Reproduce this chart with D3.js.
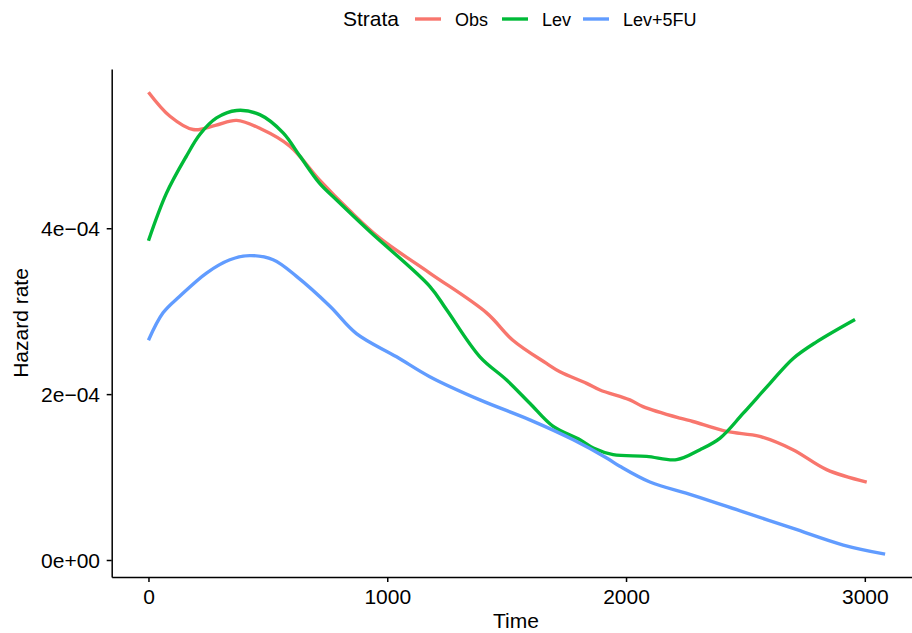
<!DOCTYPE html>
<html lang="en">
<head>
<meta charset="utf-8">
<script src="https://cdnjs.cloudflare.com/ajax/libs/d3/7.8.5/d3.min.js"></script>
<style>
  body { margin: 0; background: #fff; }
  svg { display: block; font-family: "Liberation Sans", Arial, sans-serif; }
  .axis path, .axis line { stroke: #000; stroke-width: 1.5px; }
  .axis text { fill: #000; font-size: 21px; }
  .curve { fill: none; stroke-width: 3.4px; stroke-linejoin: round; stroke-linecap: butt; }
</style>
</head>
<body>
<svg width="912" height="633"></svg>
<script>
// --- data ---
var strata = ["Obs", "Lev", "Lev+5FU"];
var colours = ["#F8766D", "#00BA38", "#619CFF"];

var obsTime = [0, 90, 187, 280, 369, 470, 592, 717, 840, 969, 1178, 1416, 1526, 1667, 1723, 1835, 1891, 2016, 2071, 2226, 2280, 2421, 2560, 2699, 2840, 3008];
var obsHaz  = [5.64, 5.35, 5.19, 5.24, 5.30, 5.20, 4.99, 4.58, 4.22, 3.88, 3.46, 2.98, 2.65, 2.37, 2.27, 2.13, 2.05, 1.93, 1.85, 1.71, 1.67, 1.55, 1.49, 1.33, 1.09, 0.94];

var levTime = [0, 75, 159, 215, 285, 369, 466, 564, 634, 717, 788, 927, 1178, 1248, 1388, 1500, 1597, 1695, 1807, 1863, 1946, 2086, 2212, 2310, 2394, 2491, 2603, 2700, 2798, 2959];
var levHaz  = [3.85, 4.42, 4.87, 5.13, 5.33, 5.42, 5.37, 5.15, 4.87, 4.54, 4.34, 3.96, 3.30, 3.02, 2.45, 2.17, 1.89, 1.61, 1.45, 1.35, 1.27, 1.25, 1.21, 1.33, 1.47, 1.77, 2.13, 2.43, 2.63, 2.90];

var fuTime = [0, 61, 131, 243, 341, 424, 522, 620, 760, 871, 1039, 1178, 1388, 1597, 1779, 1919, 1974, 2100, 2281, 2491, 2700, 2910, 3085];
var fuHaz  = [2.65, 2.98, 3.18, 3.46, 3.62, 3.67, 3.62, 3.42, 3.06, 2.73, 2.45, 2.21, 1.93, 1.69, 1.45, 1.23, 1.13, 0.94, 0.78, 0.58, 0.38, 0.18, 0.07];

var xTicks = [0, 1000, 2000, 3000];
var yTicks = [0, 2e-4, 4e-4];
var yTickLabels = ["0e+00", "2e\u221204", "4e\u221204"];

var series = [
  { name: strata[0], colour: colours[0], t: obsTime, h: obsHaz },
  { name: strata[1], colour: colours[1], t: levTime, h: levHaz },
  { name: strata[2], colour: colours[2], t: fuTime,  h: fuHaz }
];

var svg = d3.select("svg");

// panel: left axis at 111.7, bottom axis at 577; right edge runs past the window
var x = d3.scaleLinear().domain([-154, 3242]).range([111.7, 922.6]);
var y = d3.scaleLinear().domain([-0.205e-4, 5.92e-4]).range([577, 69]);

svg.append("g")
    .attr("class", "axis")
    .attr("transform", "translate(0,577)")
    .call(d3.axisBottom(x).tickValues(xTicks).tickSize(5).tickSizeOuter(0).tickPadding(7)
      .tickFormat(d3.format("d")));

var yAxis = svg.append("g")
    .attr("class", "axis")
    .attr("transform", "translate(111.7,0)")
    .call(d3.axisLeft(y).tickValues(yTicks).tickSize(5).tickSizeOuter(0).tickPadding(6.7)
      .tickFormat(function (d, i) { return yTickLabels[i]; }));
yAxis.selectAll("text").attr("dy", "0.35em");

// curves
var line = d3.line()
    .x(function (d) { return x(d[0]); })
    .y(function (d) { return y(d[1] * 1e-4); })
    .curve(d3.curveCatmullRom.alpha(0.5));

svg.append("g").selectAll("path")
  .data(series)
  .enter().append("path")
    .attr("class", "curve")
    .attr("stroke", function (d) { return d.colour; })
    .attr("d", function (d) { return line(d.t.map(function (t, i) { return [t, d.h[i]]; })); });

// axis titles
svg.append("text")
    .attr("x", 516).attr("y", 628)
    .attr("text-anchor", "middle")
    .style("font-size", "21px")
    .text("Time");

svg.append("text")
    .attr("transform", "translate(28,323) rotate(-90)")
    .attr("text-anchor", "middle")
    .style("font-size", "21px")
    .text("Hazard rate");

// legend on top
var legend = svg.append("g");
legend.append("text")
    .attr("x", 343).attr("y", 26)
    .style("font-size", "21px")
    .text("Strata");

var keyX = [415, 502, 583];
series.forEach(function (s, i) {
  legend.append("line")
      .attr("x1", keyX[i]).attr("x2", keyX[i] + 26)
      .attr("y1", 19).attr("y2", 19)
      .attr("stroke", s.colour)
      .attr("stroke-width", 3.4);
  legend.append("text")
      .attr("x", keyX[i] + 40).attr("y", 25.5)
      .style("font-size", "18px")
      .text(s.name);
});
</script>
</body>
</html>
